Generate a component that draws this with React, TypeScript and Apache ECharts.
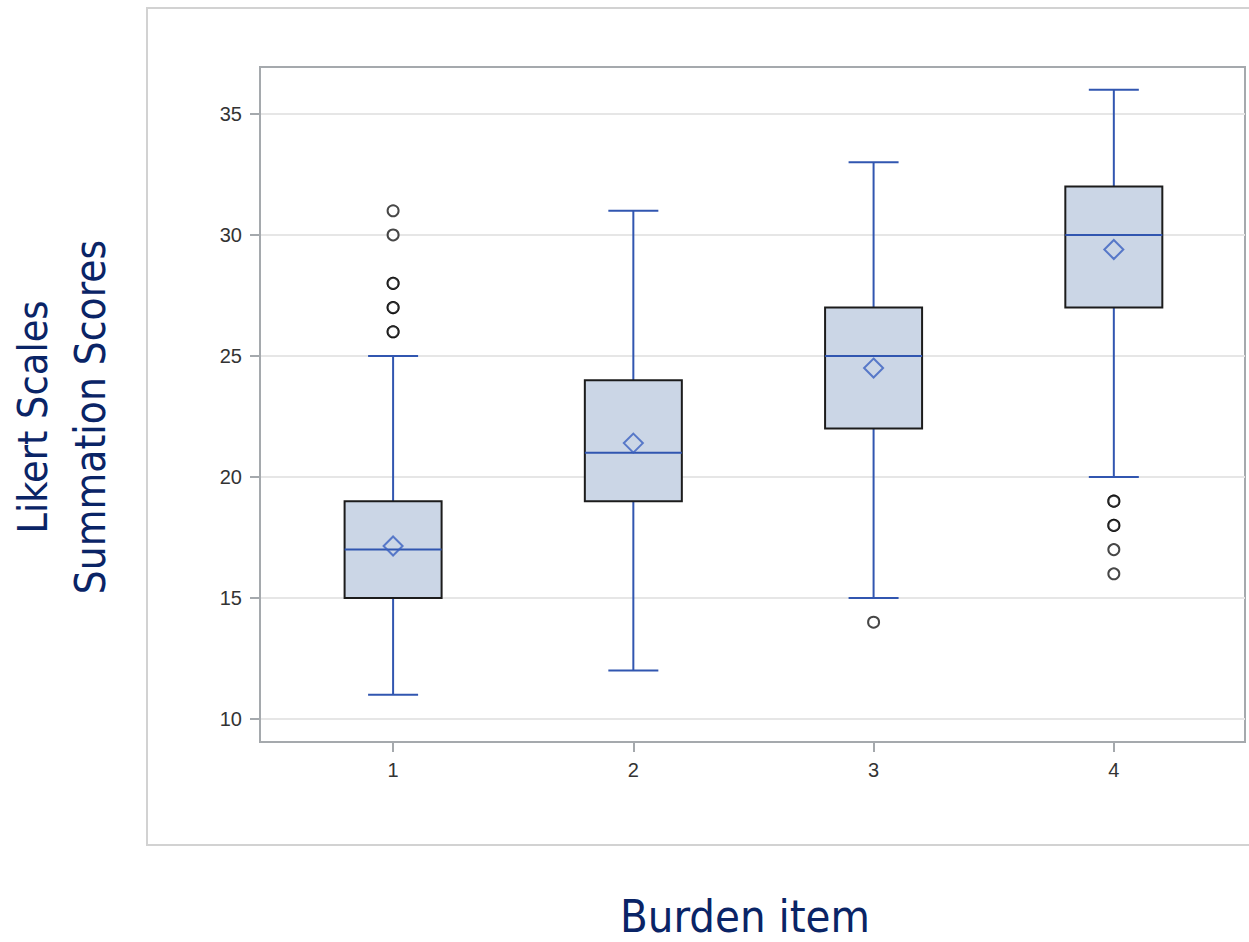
import React, { useEffect, useRef } from "react";
import * as echarts from "echarts";

const categories = [1, 2, 3, 4];
// [min, Q1, median, Q3, max]
const boxStats = [
  [11, 15, 17, 19, 25],
  [12, 19, 21, 24, 31],
  [15, 22, 25, 27, 33],
  [20, 27, 30, 32, 36],
];
const means = [17.15, 21.4, 24.5, 29.4];
// outliers: [category, value]
const outliers = [
  [1, 26], [1, 26], [1, 27], [1, 27], [1, 28], [1, 28], [1, 30], [1, 31],
  [3, 14],
  [4, 19], [4, 19], [4, 18], [4, 18], [4, 17], [4, 16],
];
const yTicks = [10, 15, 20, 25, 30, 35];

const BLUE = "#3156b0";
const NAVY = "#0a2466";

export default function App() {
  const ref = useRef<HTMLDivElement>(null);
  useEffect(() => {
    if (!ref.current) return;
    const chart = echarts.init(ref.current, null, { renderer: "svg" });
    const boxData = categories.map((c, i) => [c, ...boxStats[i]]);
    const option: any = {
      animation: false,
      backgroundColor: "#ffffff",
      grid: {
        left: 260,
        top: 67,
        width: 985,
        height: 675,
        show: true,
        borderColor: "#a5a9ad",
        borderWidth: 2,
        backgroundColor: "transparent",
      },
      xAxis: {
        type: "value",
        min: 0.446,
        max: 4.546,
        axisLine: { show: true, lineStyle: { color: "#a5a9ad", width: 2 } },
        axisTick: {
          show: true,
          length: 10,
          customValues: categories,
          lineStyle: { color: "#a5a9ad", width: 2 },
        },
        axisLabel: {
          customValues: categories,
          margin: 18,
          fontSize: 20,
          color: "#333",
          fontFamily: "Liberation Sans",
          formatter: (v: number) => String(v),
        },
        splitLine: { show: false },
      },
      yAxis: {
        type: "value",
        min: 9.05,
        max: 36.94,
        axisLine: { show: true, lineStyle: { color: "#a5a9ad", width: 2 } },
        axisTick: {
          show: true,
          length: 10,
          customValues: yTicks,
          lineStyle: { color: "#a5a9ad", width: 2 },
        },
        axisLabel: {
          customValues: yTicks,
          margin: 18,
          fontSize: 20,
          color: "#333",
          fontFamily: "Liberation Sans",
        },
        splitLine: { show: true, lineStyle: { color: "#e6e6e6", width: 2 } },
      },
      series: [
        {
          type: "custom",
          data: boxData,
          encode: { x: 0, y: [1, 2, 3, 4, 5] },
          renderItem: (params: any, api: any) => {
            const x = api.value(0);
            const pMin = api.coord([x, api.value(1)]);
            const pQ1 = api.coord([x, api.value(2)]);
            const pMed = api.coord([x, api.value(3)]);
            const pQ3 = api.coord([x, api.value(4)]);
            const pMax = api.coord([x, api.value(5)]);
            const cx = pMin[0];
            const halfBox = 48.5;
            const halfCap = 25;
            const lineStyle = { stroke: BLUE, lineWidth: 2 };
            return {
              type: "group",
              children: [
                { type: "line", shape: { x1: cx, y1: pMin[1], x2: cx, y2: pQ1[1] }, style: lineStyle },
                { type: "line", shape: { x1: cx, y1: pQ3[1], x2: cx, y2: pMax[1] }, style: lineStyle },
                { type: "line", shape: { x1: cx - halfCap, y1: pMin[1], x2: cx + halfCap, y2: pMin[1] }, style: lineStyle },
                { type: "line", shape: { x1: cx - halfCap, y1: pMax[1], x2: cx + halfCap, y2: pMax[1] }, style: lineStyle },
                {
                  type: "rect",
                  shape: { x: cx - halfBox, y: pQ3[1], width: halfBox * 2, height: pQ1[1] - pQ3[1] },
                  style: { fill: "#cbd6e6", stroke: "#1c1c1c", lineWidth: 2 },
                },
                { type: "line", shape: { x1: cx - halfBox, y1: pMed[1], x2: cx + halfBox, y2: pMed[1] }, style: lineStyle },
              ],
            };
          },
          z: 2,
        },
        {
          type: "scatter",
          data: categories.map((c, i) => [c, means[i]]),
          symbol: "diamond",
          symbolSize: 19,
          itemStyle: { color: "transparent", borderColor: "#3a60c0", borderWidth: 2 },
          z: 3,
        },
        {
          type: "scatter",
          data: outliers,
          symbol: "circle",
          symbolSize: 11,
          itemStyle: { color: "#ffffff", borderColor: "#000000", borderWidth: 2, opacity: 0.72 },
          z: 3,
        },
      ],
      graphic: [
        {
          type: "rect",
          shape: { x: 147, y: 8, width: 1130, height: 837 },
          style: { fill: "none", stroke: "#d2d2d2", lineWidth: 2 },
          z: -1,
        },
        {
          type: "text",
          x: 745,
          y: 916,
          style: {
            text: "Burden item",
            font: "45px 'DejaVu Sans Condensed', 'Liberation Sans', sans-serif",
            lineHeight: 40,
            fill: NAVY,
            textAlign: "center",
            textVerticalAlign: "middle",
          },
        },
        {
          type: "text",
          x: 33,
          y: 417,
          rotation: Math.PI / 2,
          style: {
            text: "Likert Scales",
            font: "41px 'DejaVu Sans Condensed', 'Liberation Sans', sans-serif",
            fill: NAVY,
            textAlign: "center",
            textVerticalAlign: "middle",
          },
        },
        {
          type: "text",
          x: 90,
          y: 417,
          rotation: Math.PI / 2,
          style: {
            text: "Summation Scores",
            font: "42px 'DejaVu Sans Condensed', 'Liberation Sans', sans-serif",
            fill: NAVY,
            textAlign: "center",
            textVerticalAlign: "middle",
          },
        },
      ],
    };
    chart.setOption(option);
    return () => chart.dispose();
  }, []);
  return <div ref={ref} style={{ width: 1249, height: 942, position: "absolute", left: 0, top: 0 }} />;
}
